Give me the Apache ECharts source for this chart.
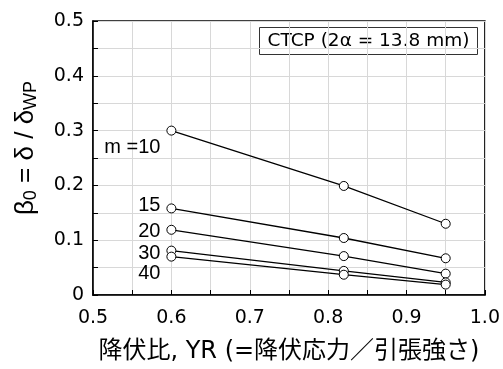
<!DOCTYPE html>
<html><head><meta charset="utf-8">
<script src="https://cdn.jsdelivr.net/npm/echarts@6/dist/echarts.min.js"></script>
<style>html,body{margin:0;padding:0;background:#fff}#c{width:503px;height:369px}</style>
</head><body><div id="c"></div>
<script>
var yieldRatio = [0.6, 0.82, 0.95];
var seriesNames = ['m =10', '15', '20', '30', '40'];
var m10 = [0.300, 0.199, 0.130];
var m15 = [0.158, 0.104, 0.067];
var m20 = [0.119, 0.071, 0.039];
var m30 = [0.081, 0.044, 0.023];
var m40 = [0.070, 0.037, 0.019];
var labelOffsets = [[0, 17], [0, -3], [0, 2], [0, 3], [0, 17]];
var xTicks = ['0.5', '0.6', '0.7', '0.8', '0.9', '1.0'];
var yTicks = ['0', '0.1', '0.2', '0.3', '0.4', '0.5'];
var allSeries = [m10, m15, m20, m30, m40];

var ARIAL = '"Liberation Sans", Arial, sans-serif';
var WIDE = '"DejaVu Sans", sans-serif';
var chart = echarts.init(document.getElementById('c'), null, {renderer: 'canvas'});

function isMajor(v) { return Math.abs(Math.round(v * 10) - v * 10) < 1e-6; }

var series = allSeries.map(function (vals, i) {
  return {
    type: 'line',
    name: seriesNames[i],
    data: yieldRatio.map(function (x, j) {
      var d = {value: [x, vals[j]]};
      if (j === 0) {
        d.label = {show: true, position: 'left', distance: 6, formatter: seriesNames[i],
          offset: labelOffsets[i], fontSize: 20, fontFamily: ARIAL, color: '#000'};
      }
      return d;
    }),
    symbol: 'circle', symbolSize: 9,
    itemStyle: {color: '#fff', borderColor: '#000', borderWidth: 1},
    lineStyle: {color: '#000', width: 1.3},
    label: {show: false},
    z: 3
  };
});

chart.setOption({
  animation: false,
  backgroundColor: '#fff',
  grid: {left: 93, right: 17, top: 21, bottom: 71, show: true, borderColor: '#000', borderWidth: 1.5, backgroundColor: 'transparent'},
  xAxis: {
    type: 'value', min: 0.5, max: 1.0, interval: 0.05,
    axisLine: {show: true, lineStyle: {color: '#000', width: 1.5}},
    axisTick: {show: true, inside: true, length: 5, lineStyle: {color: '#000', width: 1}},
    splitLine: {show: true, lineStyle: {color: '#d8d8d8', width: 1}},
    axisLabel: {margin: 14, fontSize: 19, fontFamily: WIDE, color: '#000',
      formatter: function (v) { return isMajor(v) ? xTicks[Math.round((v - 0.5) * 10)] : ''; }},
    name: '降伏比, YR (=降伏応力／引張強さ)', nameLocation: 'middle', nameGap: 45,
    nameTextStyle: {fontSize: 24, fontFamily: '"DejaVu Sans", "Noto Sans CJK JP", sans-serif', color: '#000'}
  },
  yAxis: {
    type: 'value', min: 0, max: 0.5, interval: 0.05,
    axisLine: {show: true, lineStyle: {color: '#000', width: 1.5}},
    axisTick: {show: true, inside: true, length: 5, lineStyle: {color: '#000', width: 1}},
    splitLine: {show: true, lineStyle: {color: '#d8d8d8', width: 1}},
    axisLabel: {margin: 9, fontSize: 19, fontFamily: WIDE, color: '#000',
      formatter: function (v) { return isMajor(v) ? yTicks[Math.round(v * 10)] : ''; }}
  },
  graphic: [{
    type: 'text', x: 26, y: 148, rotation: Math.PI / 2,
    style: {
      text: '{b|β}{s|0}{b| = δ / δ}{s|WP}', align: 'center', verticalAlign: 'middle',
      rich: {
        b: {fontSize: 26, fontFamily: ARIAL, fill: '#000', color: '#000'},
        s: {fontSize: 18, fontFamily: ARIAL, fill: '#000', color: '#000', padding: [11, 0, 0, 0]}
      }
    }
  }, {
    type: 'group', left: 259, top: 27,
    children: [
      {type: 'rect', shape: {x: 0, y: 0, width: 218, height: 27}, style: {fill: '#fff', stroke: '#333', lineWidth: 1}},
      {type: 'text', x: 109, y: 14, style: {text: 'CTCP (2α = 13.8 mm)', fontSize: 18.5, fontFamily: WIDE, fill: '#000', align: 'center', verticalAlign: 'middle'}}
    ]
  }],
  series: series
});
</script></body></html>
